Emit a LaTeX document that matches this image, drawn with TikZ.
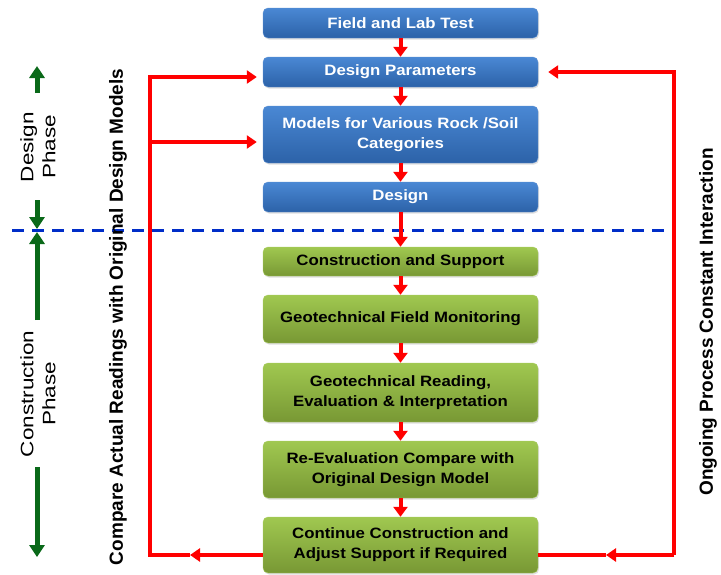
\documentclass[tikz,border=0pt]{standalone}
\usepackage[dvipsnames,svgnames,x11names]{xcolor}
\usepackage{fontspec}
\setmainfont{Liberation Sans}
\newfontfamily\boxfont[FakeStretch=1.12]{Liberation Sans}
\newfontfamily\phasefont[FakeStretch=1.25]{Liberation Sans}
\usepackage{tikz}
\usetikzlibrary{backgrounds, calc, positioning}
\usetikzlibrary{arrows.meta, shadows}

\definecolor{BlueTop}{RGB}{74,136,212}
\definecolor{BlueBot}{RGB}{44,98,168}
\definecolor{BlueEdge}{RGB}{96,146,210}
\definecolor{GreenTop}{RGB}{160,200,80}
\definecolor{GreenBot}{RGB}{120,152,52}
\definecolor{GreenEdge}{RGB}{170,204,100}
\definecolor{PhaseGreen}{RGB}{10,105,25}
\definecolor{SplitBlue}{RGB}{0,45,200}

\begin{document}
\begin{tikzpicture}[x=1pt, y=-1pt,
    box/.style={rounded corners=5pt, minimum width=275pt, align=center,
      inner sep=2pt, font=\boxfont\bfseries\fontsize{15}{20}\selectfont,
      drop shadow={opacity=0.25, shadow xshift=1pt, shadow yshift=-1.5pt}},
    designbox/.style={box, top color=BlueTop, bottom color=BlueBot, draw=BlueEdge, text=white},
    buildbox/.style={box, top color=GreenTop, bottom color=GreenBot, draw=GreenEdge, text=black},
    flow/.style={red, line width=4pt, -{Triangle[width=14pt, length=10pt]}},
    loopline/.style={red, line width=3.5pt},
    loophead/.style={-{Triangle[width=13pt, length=10pt]}},
    phasearrow/.style={PhaseGreen, line width=5pt, -{Triangle[width=15pt, length=12pt]}},
    phaseline/.style={SplitBlue, line width=3pt, dash pattern=on 12pt off 8pt},
    sidetext/.style={rotate=90, font=\bfseries\fontsize{19}{22}\selectfont},
    phasetext/.style={rotate=90, align=center, font=\phasefont\fontsize{18}{22}\selectfont},
  ]
  \useasboundingbox (0,0) rectangle (721,574);

  % design phase
  \node[designbox, minimum height=30pt] (ftest) at (400.5,23) {Field and Lab Test};
  \node[designbox, minimum height=30pt] (dparam) at (400.5,72) {Design Parameters};
  \node[designbox, minimum height=57pt] (models) at (400.5,134.5) {Models for Various Rock /Soil\\Categories};
  \node[designbox, minimum height=30pt] (design) at (400.5,197) {Design};

  % construction phase
  \node[buildbox, minimum height=29pt] (constr) at (400.5,261.5) {Construction and Support};
  \node[buildbox, minimum height=48pt] (monit) at (400.5,319) {Geotechnical Field Monitoring};
  \node[buildbox, minimum height=59pt] (reading) at (400.5,392.5) {Geotechnical Reading,\\Evaluation \& Interpretation};
  \node[buildbox, minimum height=57pt] (reeval) at (400.5,469.5) {Re-Evaluation Compare with\\Original Design Model};
  \node[buildbox, minimum height=56pt] (contin) at (400.5,545) {Continue Construction and\\Adjust Support if Required};

  % split between phases
  \coordinate (splitl) at (12,230);
  \coordinate (splitr) at (674,230);
  \draw[phaseline] (splitl) -- (splitr);

  \draw[flow] (ftest) -- (dparam);
  \draw[flow] (dparam) -- (models);
  \draw[flow] (models) -- (design);
  \draw[flow] (design) -- (constr);
  \draw[flow] (constr) -- (monit);
  \draw[flow] (monit) -- (reading);
  \draw[flow] (reading) -- (reeval);
  \draw[flow] (reeval) -- (contin);

  % left loop
  \coordinate (lbot) at (150,555);
  \coordinate (ltop) at (150,77);
  \coordinate (lmid) at (150,142);
  \coordinate (lhead) at (190,555);
  \draw[loopline, loophead] (contin.west |- lbot) -- (lhead);
  \draw[loopline, loophead, shorten >=6pt] (lhead) -- (lbot) -- (ltop) -- (ltop -| dparam.west);
  \draw[loopline, loophead, shorten >=6pt] (lmid) -- (lmid -| models.west);

  % right loop
  \coordinate (rbot) at (674,555);
  \coordinate (rtop) at (674,72);
  \coordinate (rhead) at (606,555);
  \draw[loopline, loophead] (rbot) -- (rhead);
  \draw[loopline] (rhead) -- (contin.east |- rbot);
  \draw[loopline, loophead, shorten >=10pt] (rbot) -- (rtop) -- (dparam.east);

  % side labels
  \node[sidetext] (compare) at (118,317) {Compare Actual Readings with Original Design Models};
  \node[sidetext] (ongoing) at (708,322) {Ongoing Process Constant Interaction};

  % phase markers
  \node[phasetext] (dphase) at (38,147) {Design\\Phase};
  \node[phasetext] (cphase) at (38,394) {Construction\\Phase};
  \coordinate (d1) at (37,93);
  \coordinate (d2) at (37,66);
  \coordinate (d3) at (37,200);
  \coordinate (d4) at (37,229);
  \coordinate (c1) at (37,320);
  \coordinate (c2) at (37,232);
  \coordinate (c3) at (37,467);
  \coordinate (c4) at (37,557);
  \draw[phasearrow] (d1) -- (d2);
  \draw[phasearrow] (d3) -- (d4);
  \draw[phasearrow] (c1) -- (c2);
  \draw[phasearrow] (c3) -- (c4);
\end{tikzpicture}
\end{document}
